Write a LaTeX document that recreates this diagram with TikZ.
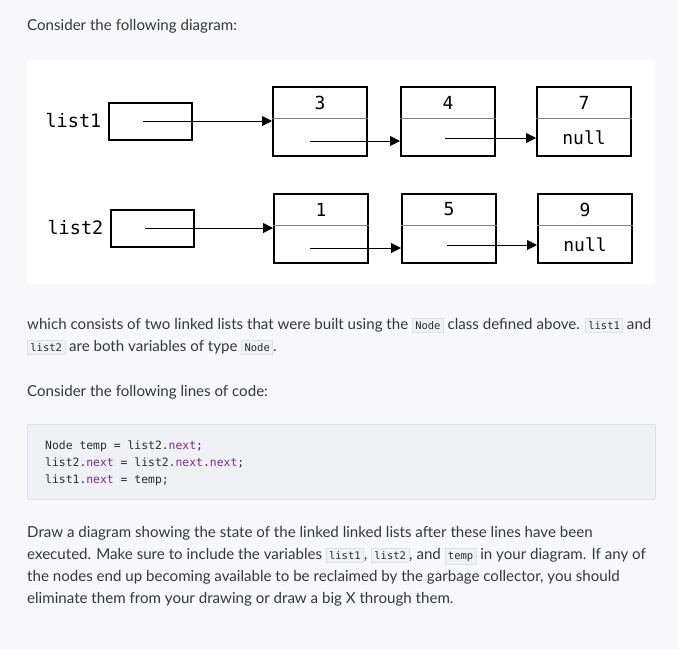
\documentclass[tikz,border=0pt]{standalone}
\usepackage{fontspec}
\setmainfont{Lato}
\setmonofont{DejaVu Sans Mono}
\usetikzlibrary{arrows.meta,positioning,calc}
\definecolor{pagebg}{RGB}{248,248,250}
\definecolor{ink}{RGB}{51,55,62}
\definecolor{codefill}{RGB}{240,241,245}
\definecolor{codeline}{RGB}{222,224,231}
\definecolor{codeink}{RGB}{40,44,50}
\definecolor{kwpurple}{RGB}{118,42,148}
\newcommand{\nxt}{\textcolor{kwpurple}{next}}
\newcommand{\icode}[1]{{\setlength{\fboxsep}{2.5pt}\setlength{\fboxrule}{0.7pt}%
  \fcolorbox{codeline}{codefill}{\ttfamily\fontsize{10.5}{12}\selectfont\color{codeink}\vphantom{Nl}#1}}}

\begin{document}
\begin{tikzpicture}[
    x=1pt, y=-1pt,
    listnode/.style={draw, line width=2pt, minimum width=94pt, minimum height=69pt, inner sep=0pt},
    varbox/.style={draw, line width=2pt, minimum width=83pt, minimum height=37pt, inner sep=0pt},
    varlabel/.style={font=\ttfamily\fontsize{18.5}{20}\selectfont, inner sep=0pt},
    val/.style={font=\ttfamily\fontsize{18}{20}\selectfont, inner sep=0pt},
    divider/.style={draw=black!50, line width=1pt},
    ptr/.style={-{Triangle[length=10pt,width=10pt]}, line width=1pt},
    para/.style={anchor=base west, inner sep=0pt, text=ink, font=\fontsize{15.1}{22}\selectfont},
    codetext/.style={anchor=base west, inner sep=0pt, text=codeink,
      font=\ttfamily\fontsize{11.4}{17}\selectfont}
  ]
    \fill[pagebg] (0,0) rectangle (678,649);
    \useasboundingbox (0,0) rectangle (678,649);

    \node[para] (intro) at (27,30) {Consider the following diagram:};

    % the diagram
    \node[fill=white, minimum width=628pt, minimum height=224pt, anchor=north west, inner sep=0pt] (canvas) at (27,60) {};

    \node[varbox] (l1) at (150,121) {};
    \node[varbox] (l2) at (152,228) {};
    \node[varlabel, left=6pt of l1] (l1name) {list1};
    \node[varlabel, left=6pt of l2] (l2name) {list2};

    \node[listnode] (n3) at (320,121) {};
    \node[listnode] (n4) at (448,121) {};
    \node[listnode] (n7) at (584,121) {};
    \node[listnode] (n1) at (321,228) {};
    \node[listnode] (n5) at (449,228) {};
    \node[listnode] (n9) at (585,228) {};

    \foreach \n/\v in {n3/3, n4/4, n7/7, n1/1, n5/5, n9/9} {
      \draw[divider] ([yshift=-32.5pt]\n.north west) -- ([yshift=-32.5pt]\n.north east);
      \node[val] (\n val) at ([yshift=-17pt]\n.north) {\v};
    }
    \node[val] (n7null) at ([yshift=-52pt]n7.north) {null};
    \node[val] (n9null) at ([yshift=-52pt]n9.north) {null};

    % pointers
    \coordinate (p1) at ([xshift=-7pt]l1.center);
    \coordinate (p2) at ([xshift=-7pt]l2.center);
    \coordinate (p3) at ([xshift=-10pt,yshift=-20pt]n3.center);
    \coordinate (p4) at ([xshift=-3pt,yshift=-17pt]n4.center);
    \coordinate (p1b) at ([xshift=-11pt,yshift=-20pt]n1.center);
    \coordinate (p5) at ([xshift=-2pt,yshift=-17pt]n5.center);
    \draw[ptr] (p1) -- (p1 -| n3.west);
    \draw[ptr] (p3) -- (p3 -| n4.west);
    \draw[ptr] (p4) -- (p4 -| n7.west);
    \draw[ptr] (p2) -- (p2 -| n1.west);
    \draw[ptr] (p1b) -- (p1b -| n5.west);
    \draw[ptr] (p5) -- (p5 -| n9.west);

    % text below
    \node[para] (desc1) at (27,329) {which consists of two linked lists that were built using the \icode{Node} class defined above. \icode{list1} and};
    \node[para] (desc2) at (27,351) {\icode{list2} are both variables of type \icode{Node}.};
    \node[para] (ask) at (27,396) {Consider the following lines of code:};

    \node[draw=codeline, fill=codefill, line width=0.8pt, rounded corners=2pt, anchor=north west,
      minimum width=628pt, minimum height=75pt, inner sep=0pt] (code) at (27,424) {};
    \node[codetext] (code1) at (45,449) {Node temp = list2.\nxt;};
    \node[codetext] (code2) at (45,466) {list2.\nxt{} = list2.\nxt.\nxt;};
    \node[codetext] (code3) at (45,483) {list1.\nxt{} = temp;};

    \node[para] (task1) at (27,537) {Draw a diagram showing the state of the linked linked lists after these lines have been};
    \node[para] (task2) at (27,559) {executed. Make sure to include the variables \icode{list1}, \icode{list2}, and \icode{temp} in your diagram. If any of};
    \node[para] (task3) at (27,581) {the nodes end up becoming available to be reclaimed by the garbage collector, you should};
    \node[para] (task4) at (27,603) {eliminate them from your drawing or draw a big X through them.};
  \end{tikzpicture}
\end{document}
